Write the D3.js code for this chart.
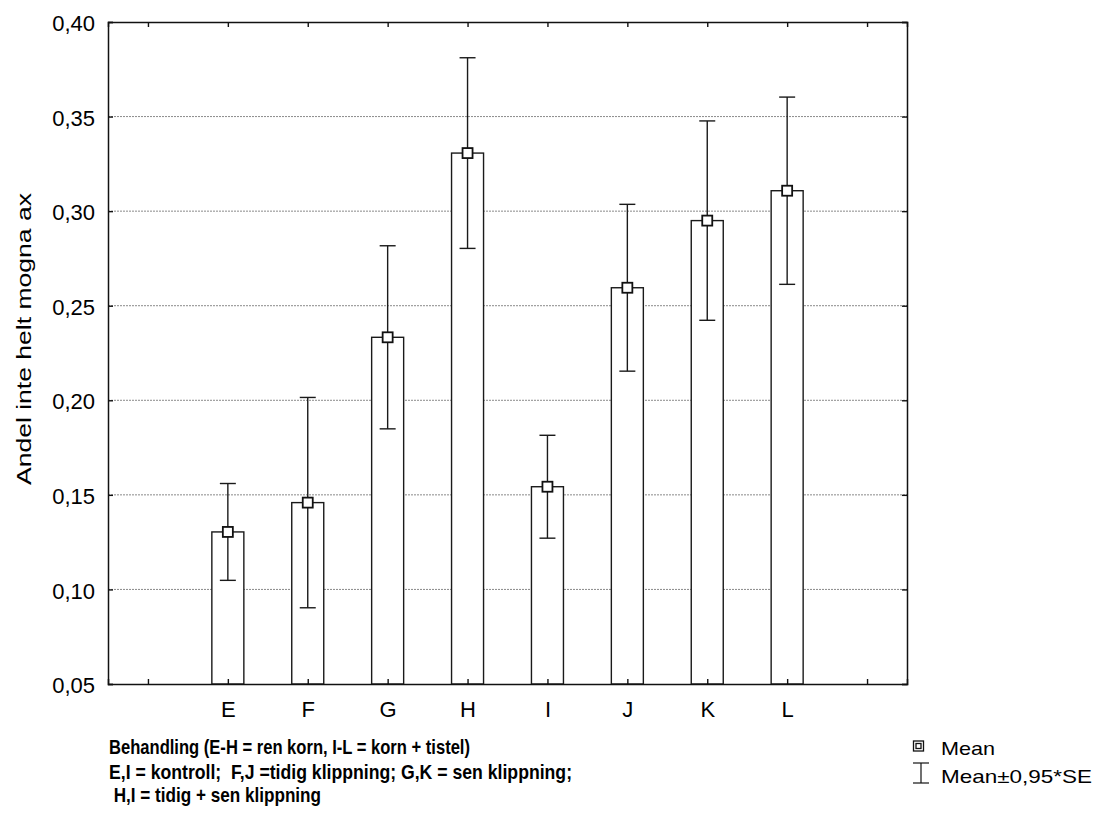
<!DOCTYPE html>
<html>
<head>
<meta charset="utf-8">
<script src="https://cdn.jsdelivr.net/npm/d3@7"></script>
<style>
  body { margin: 0; background: #fff; }
  svg { display: block; font-family: "Liberation Sans", Arial, sans-serif; }
  text { white-space: pre; }
</style>
</head>
<body>
<svg id="chart" width="1101" height="820"></svg>
<script>
// Treatment groups and their means with ±0.95*SE half-widths
const categories = ["E", "F", "G", "H", "I", "J", "K", "L"];
const means      = [0.1304, 0.1459, 0.2333, 0.3307, 0.1543, 0.2595, 0.2950, 0.3108];
const errors     = [0.0256, 0.0556, 0.0484, 0.0504, 0.0272, 0.0441, 0.0527, 0.0495];
const yTicks     = [0.05, 0.10, 0.15, 0.20, 0.25, 0.30, 0.35, 0.40];
const yTitle     = "Andel inte helt mogna ax";
const xTitleLines = [
  "Behandling (E-H = ren korn, I-L = korn + tistel)",
  "E,I = kontroll;  F,J =tidig klippning; G,K = sen klippning;",
  " H,I = tidig + sen klippning"
];
const legendItems = ["Mean", "Mean\u00b10,95*SE"];

// Layout: rendered widths of the title lines and legend labels
const xTitleWidths = [361, 463, 212];
const legendWidths = [54, 151];

const rows = categories.map((c, i) => ({ cat: c, mean: means[i], err: errors[i] }));

const svg = d3.select("#chart");
const L = 108, R = 907, T = 22, B = 684;

// Empty slots on either side of the groups
const slots = ["_a", ...categories, "_b"];
const x = d3.scalePoint().domain(slots).range([L, R]).padding(0.5);
const y = d3.scaleLinear().domain([0.05, 0.40]).range([B, T]);
const fmt = v => d3.format(".2f")(v).replace(".", ",");

// Dotted grid lines
svg.append("g").selectAll("line")
  .data(yTicks.filter(v => v > 0.05 && v < 0.40))
  .join("line")
  .attr("x1", L).attr("x2", R)
  .attr("y1", d => y(d)).attr("y2", d => y(d))
  .attr("stroke", "#8a8a8a").attr("stroke-width", 1)
  .attr("stroke-dasharray", "2,1");

// Bars
const bw = 32;
svg.append("g").selectAll("rect")
  .data(rows).join("rect")
  .attr("x", d => x(d.cat) - bw / 2)
  .attr("y", d => y(d.mean))
  .attr("width", bw)
  .attr("height", d => B - y(d.mean))
  .attr("fill", "#fff").attr("stroke", "#1a1a1a").attr("stroke-width", 1.4);

// Whiskers
const cap = 16;
const eg = svg.append("g").attr("stroke", "#1a1a1a").attr("stroke-width", 1.4);
eg.selectAll("line.v").data(rows).join("line").attr("class", "v")
  .attr("x1", d => x(d.cat)).attr("x2", d => x(d.cat))
  .attr("y1", d => y(d.mean + d.err)).attr("y2", d => y(d.mean - d.err));
eg.selectAll("line.t").data(rows).join("line").attr("class", "t")
  .attr("x1", d => x(d.cat) - cap / 2).attr("x2", d => x(d.cat) + cap / 2)
  .attr("y1", d => y(d.mean + d.err)).attr("y2", d => y(d.mean + d.err));
eg.selectAll("line.b").data(rows).join("line").attr("class", "b")
  .attr("x1", d => x(d.cat) - cap / 2).attr("x2", d => x(d.cat) + cap / 2)
  .attr("y1", d => y(d.mean - d.err)).attr("y2", d => y(d.mean - d.err));

// Mean markers
const ms = 10;
svg.append("g").selectAll("rect")
  .data(rows).join("rect")
  .attr("x", d => x(d.cat) - ms / 2)
  .attr("y", d => y(d.mean) - ms / 2)
  .attr("width", ms).attr("height", ms)
  .attr("fill", "#fff").attr("stroke", "#111").attr("stroke-width", 1.8);

// Axes (ticks point inward on all four sides)
const tickLabel = d => (categories.includes(d) ? d : "");
const axB = svg.append("g").attr("transform", `translate(0,${B})`)
  .call(d3.axisBottom(x).tickSize(-5).tickPadding(17).tickFormat(tickLabel));
const axT = svg.append("g").attr("transform", `translate(0,${T})`)
  .call(d3.axisTop(x).tickSize(-5).tickFormat(""));
const axLft = svg.append("g").attr("transform", `translate(${L},0)`)
  .call(d3.axisLeft(y).tickValues(yTicks).tickSize(-5).tickPadding(13).tickFormat(fmt));
const axRt = svg.append("g").attr("transform", `translate(${R},0)`)
  .call(d3.axisRight(y).tickValues(yTicks).tickSize(-5).tickFormat(""));
[axB, axT, axLft, axRt].forEach(a => {
  a.select(".domain").attr("stroke", "#111").attr("stroke-width", 1.5);
  a.selectAll(".tick line").attr("stroke", "#111").attr("stroke-width", 1.4);
  a.selectAll("text").attr("fill", "#000").attr("font-size", 22)
    .attr("font-family", "'Liberation Sans', Arial, sans-serif");
});
axLft.selectAll("text").attr("dy", "0.39em");

// Y axis title
svg.append("text")
  .attr("transform", `translate(31,339) rotate(-90)`)
  .attr("text-anchor", "middle")
  .attr("font-size", 21)
  .attr("textLength", 292).attr("lengthAdjust", "spacingAndGlyphs")
  .text(yTitle);

// X axis title (three lines, bold)
svg.append("g").selectAll("text")
  .data(xTitleLines).join("text")
  .attr("x", 109)
  .attr("y", (d, i) => [753.5, 779, 802][i])
  .attr("font-size", 20.5).attr("font-weight", "bold")
  .attr("textLength", (d, i) => xTitleWidths[i]).attr("lengthAdjust", "spacingAndGlyphs")
  .text(d => d);

// Legend symbols: mean box and whisker
const lg = svg.append("g").attr("stroke", "#111").attr("fill", "none");
lg.append("rect").attr("x", 913.5).attr("y", 741).attr("width", 10).attr("height", 10).attr("stroke-width", 1.3);
lg.append("rect").attr("x", 916).attr("y", 743.5).attr("width", 5).attr("height", 5).attr("stroke-width", 1.3);
lg.append("line").attr("x1", 921).attr("x2", 921).attr("y1", 763).attr("y2", 783).attr("stroke-width", 1.2);
lg.append("line").attr("x1", 913).attr("x2", 929).attr("y1", 763).attr("y2", 763).attr("stroke-width", 1.2);
lg.append("line").attr("x1", 913).attr("x2", 929).attr("y1", 783).attr("y2", 783).attr("stroke-width", 1.2);
svg.append("g").selectAll("text")
  .data(legendItems).join("text")
  .attr("x", 941)
  .attr("y", (d, i) => [755, 782.5][i])
  .attr("font-size", 18.5)
  .attr("textLength", (d, i) => legendWidths[i]).attr("lengthAdjust", "spacingAndGlyphs")
  .text(d => d);
</script>
</body>
</html>
